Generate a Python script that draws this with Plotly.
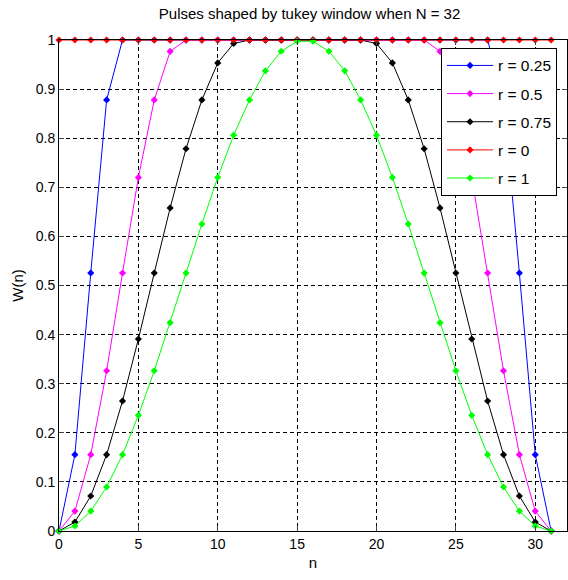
import plotly.graph_objects as go

n = list(range(32))

w_025 = [0.0, 0.1555, 0.5254, 0.8779] + [1.0] * 24 + [0.8779, 0.5254, 0.1555, 0.0]
w_050 = [0.0, 0.0405, 0.1555, 0.3263, 0.5254, 0.7202, 0.8779, 0.9767] + [1.0] * 16 + \
        [0.9767, 0.8779, 0.7202, 0.5254, 0.3263, 0.1555, 0.0405, 0.0]
w_075 = [0.0, 0.0182, 0.0713, 0.1555, 0.2647, 0.3910, 0.5254, 0.6580, 0.7785, 0.8779, 0.9533, 0.9929] + \
        [1.0] * 8 + \
        [0.9929, 0.9533, 0.8779, 0.7785, 0.6580, 0.5254, 0.3910, 0.2647, 0.1555, 0.0713, 0.0182, 0.0]
w_000 = [1.0] * 32
w_100 = [0.0, 0.0102, 0.0405, 0.0896, 0.1555, 0.2355, 0.3263, 0.4243, 0.5253, 0.6253, 0.7202, 0.8061,
         0.8779, 0.9372, 0.9771, 0.9974, 0.9974, 0.9771, 0.9372, 0.8779, 0.8061, 0.7202, 0.6253, 0.5253,
         0.4243, 0.3263, 0.2355, 0.1555, 0.0896, 0.0405, 0.0102, 0.0]

series_names = ["r = 0.25", "r = 0.5", "r = 0.75", "r = 0", "r = 1"]
series_values = [w_025, w_050, w_075, w_000, w_100]
series_colors = ["#0000ff", "#ff00ff", "#000000", "#ff0000", "#00ff00"]

x_ticks = [0, 5, 10, 15, 20, 25, 30]
y_ticks = [0, 0.1, 0.2, 0.3, 0.4, 0.5, 0.6, 0.7, 0.8, 0.9, 1]
y_tick_labels = ["0", "0.1", "0.2", "0.3", "0.4", "0.5", "0.6", "0.7", "0.8", "0.9", "1"]

FONT = "Liberation Sans, Arial, sans-serif"

fig = go.Figure()
for name, vals, col in zip(series_names, series_values, series_colors):
    fig.add_trace(go.Scatter(
        x=n, y=vals, name=name, mode="lines+markers",
        line=dict(color=col, width=1),
        marker=dict(symbol="diamond", size=5.5, color=col),
        cliponaxis=False, legendgroup=name,
    ))

grid = dict(showgrid=True, gridcolor="#000000", griddash="4px,3px", gridwidth=1)

fig.update_layout(
    width=568, height=580,
    margin=dict(l=59, r=1, t=40, b=49),
    paper_bgcolor="white", plot_bgcolor="white",
    font=dict(family=FONT, size=14, color="#000000"),
    title=dict(text="Pulses shaped by tukey window when N = 32", x=0.545, xanchor="center",
               y=1 - 14 / 580, yanchor="middle", font=dict(size=15)),
    showlegend=True,
    legend=dict(x=0.752, xanchor="left", y=0.984, yanchor="top",
                bgcolor="white", bordercolor="#000000", borderwidth=1,
                font=dict(size=15.5), tracegroupgap=5, itemwidth=46),
    xaxis=dict(range=[0, 32], tickvals=x_ticks, ticks="inside", ticklen=5,
               showline=True, linecolor="#000000", linewidth=1, mirror="ticks",
               zeroline=False, title=dict(text="n", standoff=6, font=dict(size=15)),
               tickfont=dict(size=14), **grid),
    yaxis=dict(range=[0, 1], tickvals=y_ticks, ticktext=y_tick_labels, ticks="inside", ticklen=5,
               showline=True, linecolor="#000000", linewidth=1, mirror="ticks",
               zeroline=False, title=dict(text="W(n)", standoff=8, font=dict(size=15)),
               tickfont=dict(size=14), **grid),
)

fig.write_html("out.html")
